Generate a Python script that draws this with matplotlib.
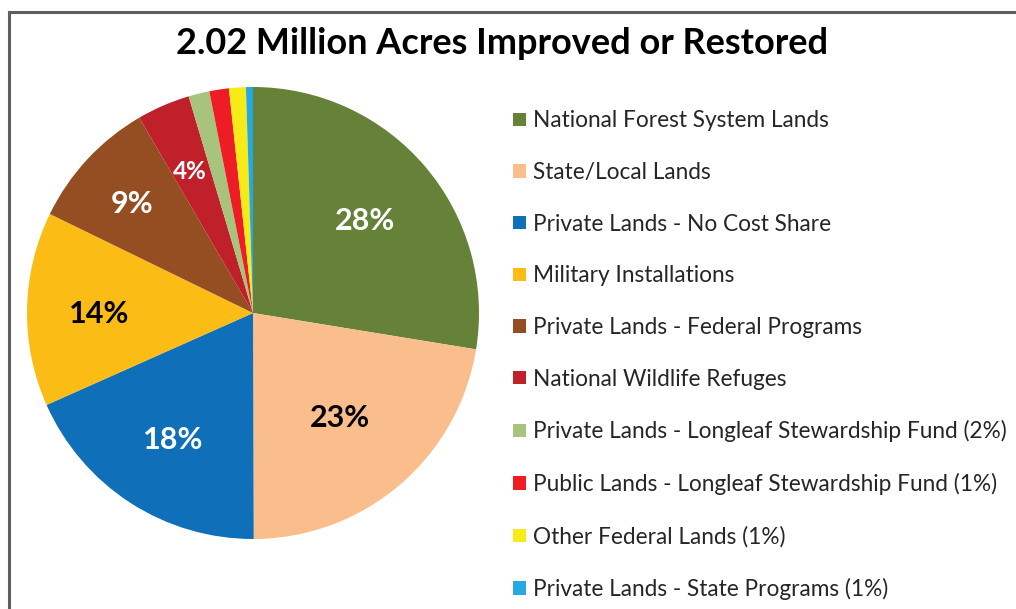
import numpy as np
import matplotlib.pyplot as plt

categories = ["National Forest System Lands", "State/Local Lands",
              "Private Lands - No Cost Share", "Military Installations",
              "Private Lands - Federal Programs", "National Wildlife Refuges",
              "Private Lands - Longleaf Stewardship Fund (2%)",
              "Public Lands - Longleaf Stewardship Fund (1%)",
              "Other Federal Lands (1%)", "Private Lands - State Programs (1%)"]
shares = [27.6, 22.4, 18.4, 13.9, 9.4, 3.8, 1.5, 1.4, 1.2, 0.5]
slice_labels = ["28%", "23%", "18%", "14%", "9%", "4%", "", "", "", ""]
colors = ["#668138", "#f9be8c", "#0f6fb9", "#fbbd15", "#954d22", "#c0202a",
          "#a8c47c", "#ee1c25", "#f6eb16", "#27a8e0"]
label_colors = ["white", "black", "white", "black", "white", "white"]
label_sizes = [22, 22, 22, 22, 22, 17.5]
label_dist = [0.65, 0.59, 0.65, 0.68, 0.73, 0.70]

plt.rcParams['font.family'] = ['Lato', 'DejaVu Sans']

W, H = 1016, 609
fig = plt.figure(figsize=(W/100, H/100), dpi=100)

# gray frame, cut off at right and bottom
fig.add_artist(plt.Line2D([9/W, 9/W], [0, 1-12/H], color="#5f5f62", lw=2.2))
fig.add_artist(plt.Line2D([9/W, 1], [1-12/H, 1-12/H], color="#5f5f62", lw=2.2))

fig.text(502/W, 1-43/H, "2.02 Million Acres Improved or Restored",
         ha="center", va="center", fontsize=26, fontweight="bold")

cx, cy, r = 253, 313, 226
ax = fig.add_axes([(cx-r)/W, (H-cy-r)/H, 2*r/W, 2*r/H])
wedges, _ = ax.pie(shares, colors=colors, startangle=90, counterclock=False,
                   radius=1, wedgeprops=dict(linewidth=0))
ax.set_xlim(-1, 1)
ax.set_ylim(-1, 1)
ax.set_aspect("equal")
ax.axis("off")

for w, lab, col, fs, d in zip(wedges, slice_labels, label_colors, label_sizes, label_dist):
    ang = np.deg2rad((w.theta1 + w.theta2) / 2)
    ax.text(d*np.cos(ang), d*np.sin(ang) - 0.015, lab, ha="center", va="center",
            color=col, fontsize=fs, fontweight="bold")

leg = fig.legend(wedges, categories, loc="upper left",
                 bbox_to_anchor=(502/W, 1-99/H), frameon=False,
                 fontsize=16.3, handlelength=0.54, handleheight=0.54,
                 handletextpad=0.35, labelspacing=1.355, borderpad=0)
for t in leg.get_texts():
    t.set_color("#262626")

fig.savefig("out.png", dpi=100)
